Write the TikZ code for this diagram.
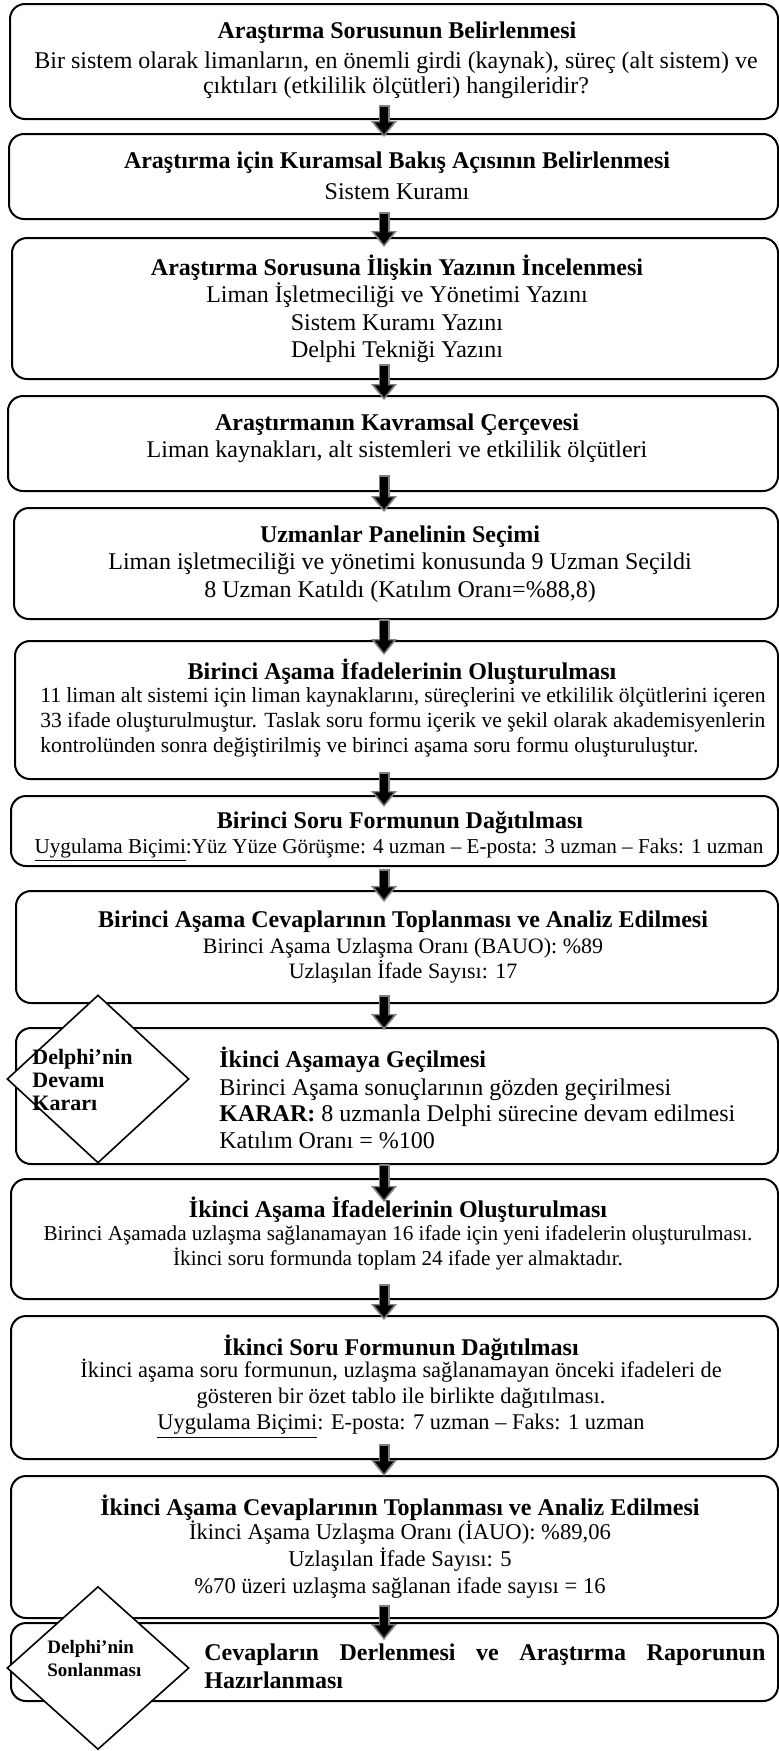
\documentclass[tikz,border=0pt]{standalone}
\usepackage{fontspec}
\setmainfont{Liberation Serif}
\usetikzlibrary{arrows.meta,calc,shapes.geometric}
\hyphenpenalty=10000
\exhyphenpenalty=10000
\tolerance=9999

\begin{document}
\begin{tikzpicture}[x=0.5pt,y=-0.5pt,
  stagebox/.style={draw, line width=1pt, rounded corners=7.5pt, inner sep=0pt,
    anchor=north west, minimum width=#1},
  ttl/.style={font=\bfseries\fontsize{12}{13}\selectfont, inner sep=0pt, align=center},
  body/.style={font=\fontsize{12}{13.2}\selectfont, inner sep=0pt, align=center},
  decision/.style={draw, diamond, fill=white, line width=0.8pt, inner sep=0pt},
  dtext/.style={font=\bfseries\fontsize{11}{11.5}\selectfont, inner sep=0pt, align=left, anchor=west},
  flow/.style={draw=gray, line width=5.5pt, -{Triangle[length=8pt,width=12.5pt]},
    postaction={draw=black, line width=3.6pt, -{Triangle[length=6pt,width=9pt]},
      shorten >=1.3pt, shorten <=0.8pt}}
]
\useasboundingbox (0,0) rectangle (779,1751);
\coordinate (ax) at (384,0);

% stage boxes
\node[stagebox=384pt,   minimum height=57.5pt] (b1)  at (9,3) {};
\node[stagebox=384.5pt, minimum height=42.5pt] (b2)  at (8,133) {};
\node[stagebox=383pt,   minimum height=70.5pt] (b3)  at (11,237) {};
\node[stagebox=385pt,   minimum height=47.5pt] (b4)  at (7,395) {};
\node[stagebox=382pt,   minimum height=55.5pt] (b5)  at (13,507) {};
\node[stagebox=381.5pt, minimum height=69pt]   (b6)  at (14,640) {};
\node[stagebox=383.5pt, minimum height=35pt]   (b7)  at (10,795) {};
\node[stagebox=381pt,   minimum height=56pt]   (b8)  at (15,890) {};
\node[stagebox=381pt,   minimum height=68pt]   (b9)  at (15,1027) {};
\node[stagebox=383.5pt, minimum height=60pt]   (b10) at (10,1178) {};
\node[stagebox=383.5pt, minimum height=71.5pt] (b11) at (10,1315) {};
\node[stagebox=383.5pt, minimum height=71pt]   (b12) at (10,1475) {};
\node[stagebox=383.5pt, minimum height=39pt]   (b13) at (10,1622) {};

% texts
\node[ttl]  (t1) at (397,33) {Araştırma Sorusunun Belirlenmesi};
\node[body, font=\fontsize{12}{12.5}\selectfont] (d1) at (396,75.5)
  {Bir sistem olarak limanların, en önemli girdi (kaynak), süreç (alt sistem) ve\\
   çıktıları (etkililik ölçütleri) hangileridir?};

\node[ttl]  (t2) at (397,163) {Araştırma için Kuramsal Bakış Açısının Belirlenmesi};
\node[body] (d2) at (397,192) {Sistem Kuramı};

\node[ttl]  (t3) at (397,268) {Araştırma Sorusuna İlişkin Yazının İncelenmesi};
\node[body, font=\fontsize{12}{13.7}\selectfont] (d3) at (397,322.7)
  {Liman İşletmeciliği ve Yönetimi Yazını\\Sistem Kuramı Yazını\\Delphi Tekniği Yazını};

\node[ttl]  (t4) at (397,425) {Araştırmanın Kavramsal Çerçevesi};
\node[body] (d4) at (397,452) {Liman kaynakları, alt sistemleri ve etkililik ölçütleri};

\node[ttl]  (t5) at (400,537) {Uzmanlar Panelinin Seçimi};
\node[body, font=\fontsize{12}{14.2}\selectfont] (d5) at (400,577.5)
  {Liman işletmeciliği ve yönetimi konusunda 9 Uzman Seçildi\\
   8 Uzman Katıldı (Katılım Oranı=\%88,8)};

\node[ttl]  (t6) at (402,672) {Birinci Aşama İfadelerinin Oluşturulması};
\node[body, font=\fontsize{10.8}{12.5}\selectfont, text width=362.5pt, align=justify, anchor=west] (d6) at (40,722)
  {11 liman alt sistemi için liman kaynaklarını, süreçlerini ve etkililik ölçütlerini içeren\linebreak
   33 ifade oluşturulmuştur. Taslak soru formu içerik ve şekil olarak akademisyenlerin\linebreak
   kontrolünden sonra değiştirilmiş ve birinci aşama soru formu oluşturuluştur.};

\node[ttl]  (t7) at (400,823) {Birinci Soru Formunun Dağıtılması};
\node[body, font=\fontsize{10.6}{12.5}\selectfont] (d7) at (399,850)
  {\underline{Uygulama Biçimi}:Yüz Yüze Görüşme: 4 uzman – E-posta: 3 uzman – Faks: 1 uzman};

\node[ttl]  (t8) at (403,922) {Birinci Aşama Cevaplarının Toplanması ve Analiz Edilmesi};
\node[body, font=\fontsize{11}{12.5}\selectfont] (d8) at (403,960.5)
  {Birinci Aşama Uzlaşma Oranı (BAUO): \%89\\Uzlaşılan İfade Sayısı: 17};

\node[ttl, anchor=west] (t9) at (219,1060) {İkinci Aşamaya Geçilmesi};
\node[body, align=left, anchor=west] (d9) at (219,1113.5)
  {Birinci Aşama sonuçlarının gözden geçirilmesi\\
   \textbf{KARAR:} 8 uzmanla Delphi sürecine devam edilmesi\\
   Katılım Oranı = \%100};

\node[ttl]  (t10) at (398,1210) {İkinci Aşama İfadelerinin Oluşturulması};
\node[body, font=\fontsize{10.6}{12.5}\selectfont] (d10) at (398,1247.5)
  {Birinci Aşamada uzlaşma sağlanamayan 16 ifade için yeni ifadelerin oluşturulması.\\
   İkinci soru formunda toplam 24 ifade yer almaktadır.};

\node[ttl]  (t11) at (401,1348) {İkinci Soru Formunun Dağıtılması};
\node[body, font=\fontsize{11.2}{13}\selectfont] (d11) at (401,1399)
  {İkinci aşama soru formunun, uzlaşma sağlanamayan önceki ifadeleri de\\
   gösteren bir özet tablo ile birlikte dağıtılması.\\
   \underline{Uygulama Biçimi}: E-posta: 7 uzman – Faks: 1 uzman};

\node[ttl]  (t12) at (400,1508) {İkinci Aşama Cevaplarının Toplanması ve Analiz Edilmesi};
\node[body, font=\fontsize{11.3}{13.5}\selectfont] (d12) at (400,1560)
  {İkinci Aşama Uzlaşma Oranı (İAUO): \%89,06\\
   Uzlaşılan İfade Sayısı: 5\\
   \%70 üzeri uzlaşma sağlanan ifade sayısı = 16};

\node[font=\bfseries\fontsize{12}{14}\selectfont, inner sep=0pt, text width=280.5pt,
  align=justify, anchor=west] (t13) at (204,1666)
  {Cevapların Derlenmesi ve Araştırma Raporunun Hazırlanması};

% connectors
\draw[flow] ($(b1.south -| ax)+(0,-15)$)  -- ($(b2.north -| ax)+(0,4)$);
\draw[flow] ($(b2.south -| ax)+(0,-8)$)   -- ($(b3.north -| ax)+(0,10)$);
\draw[flow] ($(b3.south -| ax)+(0,-16)$)  -- ($(b4.north -| ax)+(0,5)$);
\draw[flow] ($(b4.south -| ax)+(0,-17)$)  -- ($(b5.north -| ax)+(0,5)$);
\draw[flow] ($(b5.south -| ax)+(0,-1)$)   -- ($(b6.north -| ax)+(0,15)$);
\draw[flow] ($(b6.south -| ax)+(0,-8)$)   -- ($(b7.north -| ax)+(0,12)$);
\draw[flow] ($(b7.south -| ax)+(0,2)$)    -- ($(b8.north -| ax)+(0,12)$);
\draw[flow] ($(b8.south -| ax)+(0,-9)$)   -- ($(b9.north -| ax)+(0,3)$);
\draw[flow] ($(b9.south -| ax)+(0,-1)$)   -- ($(b10.north -| ax)+(0,24)$);
\draw[flow] ($(b10.south -| ax)+(0,-16)$) -- ($(b11.north -| ax)+(0,5)$);
\draw[flow] ($(b11.south -| ax)+(0,-16)$) -- ($(b12.north -| ax)+(0,1)$);
\draw[flow] ($(b12.south -| ax)+(0,-14)$) -- ($(b13.north -| ax)+(0,18)$);

% decision diamonds
\node[decision, minimum width=91pt, minimum height=84pt] (k1) at (98,1079) {};
\node[dtext] (k1t) at (32,1080) {Delphi’nin\\Devamı\\Kararı};
\node[decision, minimum width=91pt, minimum height=81.5pt] (k2) at (98,1668) {};
\node[dtext, font=\bfseries\fontsize{9.5}{11.5}\selectfont] (k2t) at (47,1658.5) {Delphi’nin\\Sonlanması};
\end{tikzpicture}
\end{document}
